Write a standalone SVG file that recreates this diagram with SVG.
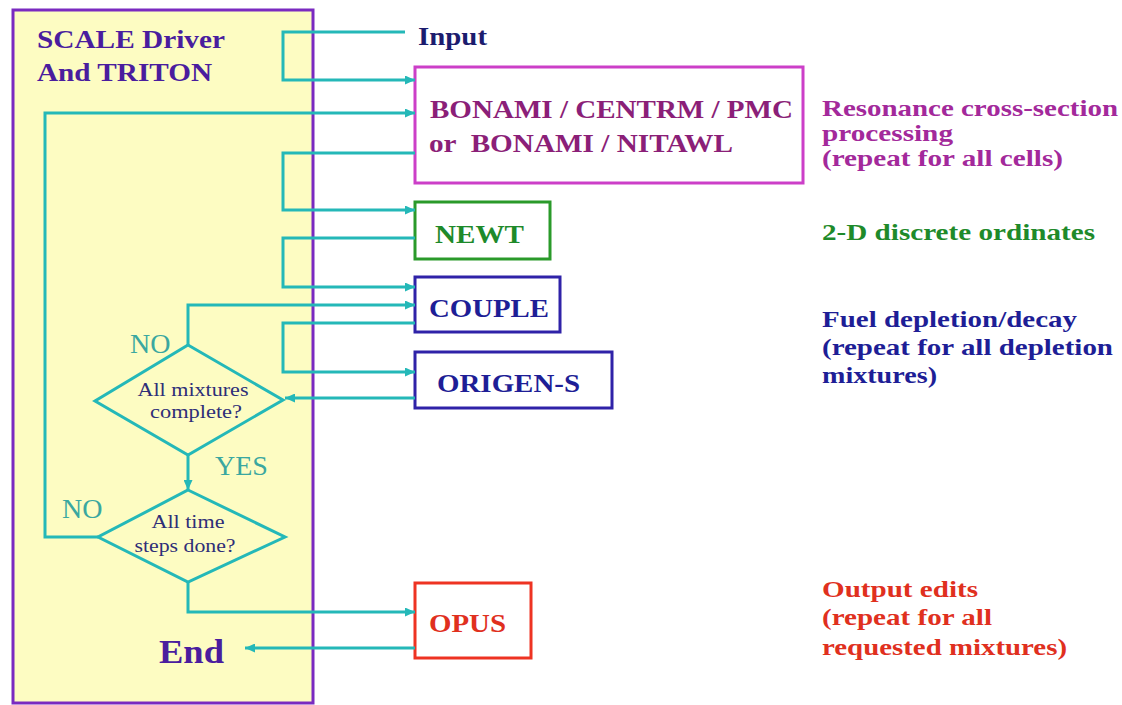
<svg xmlns="http://www.w3.org/2000/svg" width="1122" height="705" viewBox="0 0 1122 705" font-family="'Liberation Serif', 'DejaVu Serif', serif">
<style>
text{font-family:'Liberation Serif','DejaVu Serif',serif;}
.b{font-weight:bold;}
.conn{fill:none;stroke:#24b8b8;stroke-width:3;}
.box{fill:#fff;stroke-width:3;}
.dia{fill:none;stroke:#24b8b8;stroke-width:3;stroke-linejoin:miter;}
.dt{font-size:19px;fill:#2e2e78;text-anchor:middle;}
.lbl{font-size:28px;fill:#3aa7a0;}
.mag{fill:#a3299b;font-size:23px;font-weight:bold;}
.grn{fill:#1e8a2a;}
.blu{fill:#1e1e96;}
.red{fill:#e0301e;}
</style>
<defs>
<marker id="ah" markerUnits="userSpaceOnUse" markerWidth="10" markerHeight="9" refX="10" refY="4.5" orient="auto">
<path d="M0,0 L10,4.5 L0,9 z" fill="#24b8b8"/>
</marker>
</defs>
<rect width="1122" height="705" fill="#fff"/>
<g id="driver">
<rect x="13" y="10" width="300" height="693" fill="#fdfcc2" stroke="#7a2ac0" stroke-width="3"/>
<text x="37" y="48" class="b" font-size="26" fill="#4a1d9e" textLength="188" lengthAdjust="spacingAndGlyphs">SCALE Driver</text>
<text x="37" y="81" class="b" font-size="26" fill="#4a1d9e" textLength="175" lengthAdjust="spacingAndGlyphs">And TRITON</text>
</g>
<g id="input">
<text x="418" y="45" class="b" font-size="25" fill="#1c1c6e" textLength="69" lengthAdjust="spacingAndGlyphs">Input</text>
</g>
<g id="bonami">
<rect class="box" x="415" y="67" width="388" height="116" stroke="#cc3fc8"/>
<text x="430" y="118" class="b" font-size="26" fill="#8b1f78" textLength="363" lengthAdjust="spacingAndGlyphs">BONAMI / CENTRM / PMC</text>
<text x="429" y="152" class="b" font-size="26" fill="#8b1f78" textLength="304" lengthAdjust="spacingAndGlyphs" xml:space="preserve">or  BONAMI / NITAWL</text>
</g>
<g id="newt">
<rect class="box" x="415" y="202" width="135" height="57" stroke="#2a9a2a"/>
<text x="435" y="243" class="b grn" font-size="26" textLength="89" lengthAdjust="spacingAndGlyphs">NEWT</text>
</g>
<g id="couple">
<rect class="box" x="415" y="277" width="145" height="55" stroke="#2f22a8"/>
<text x="429" y="317" class="b blu" font-size="26" textLength="120" lengthAdjust="spacingAndGlyphs">COUPLE</text>
</g>
<g id="origen">
<rect class="box" x="415" y="352" width="197" height="56" stroke="#2f22a8"/>
<text x="437" y="392" class="b blu" font-size="26" textLength="143" lengthAdjust="spacingAndGlyphs">ORIGEN-S</text>
</g>
<g id="opus">
<rect class="box" x="415" y="583" width="116" height="75" stroke="#ee3322"/>
<text x="429" y="632" class="b red" font-size="26" textLength="77" lengthAdjust="spacingAndGlyphs">OPUS</text>
</g>
<g id="mixtures-decision">
<polygon class="dia" points="188,345 283,400 188,455 95,401"/>
<text x="193" y="396" class="dt" textLength="111" lengthAdjust="spacingAndGlyphs">All mixtures</text>
<text x="196" y="418" class="dt" textLength="92" lengthAdjust="spacingAndGlyphs">complete?</text>
</g>
<g id="timesteps-decision">
<polygon class="dia" points="188,490 285,537 188,582 98,537"/>
<text x="188" y="528" class="dt" textLength="73" lengthAdjust="spacingAndGlyphs">All time</text>
<text x="185" y="552" class="dt" textLength="101" lengthAdjust="spacingAndGlyphs">steps done?</text>
</g>
<g id="end">
<text x="159" y="663" class="b" font-size="34" fill="#4a1d9e" textLength="65" lengthAdjust="spacingAndGlyphs">End</text>
</g>
<g id="labels">
<text x="130" y="353" class="lbl">NO</text>
<text x="215" y="475" class="lbl">YES</text>
<text x="62" y="518" class="lbl" font-size="27">NO</text>
</g>
<g id="notes">
<text x="822" y="116" class="mag" textLength="296" lengthAdjust="spacingAndGlyphs">Resonance cross-section</text>
<text x="822" y="141" class="mag" textLength="131" lengthAdjust="spacingAndGlyphs">processing</text>
<text x="822" y="166" class="mag" textLength="241" lengthAdjust="spacingAndGlyphs">(repeat for all cells)</text>
<text x="822" y="240" class="mag grn" textLength="273" lengthAdjust="spacingAndGlyphs">2-D discrete ordinates</text>
<text x="822" y="327" class="mag blu" textLength="255" lengthAdjust="spacingAndGlyphs">Fuel depletion/decay</text>
<text x="822" y="355" class="mag blu" textLength="291" lengthAdjust="spacingAndGlyphs">(repeat for all depletion</text>
<text x="822" y="383" class="mag blu" textLength="115" lengthAdjust="spacingAndGlyphs">mixtures)</text>
<text x="822" y="597" class="mag red" textLength="156" lengthAdjust="spacingAndGlyphs">Output edits</text>
<text x="822" y="625" class="mag red" textLength="170" lengthAdjust="spacingAndGlyphs">(repeat for all</text>
<text x="822" y="655" class="mag red" textLength="245" lengthAdjust="spacingAndGlyphs">requested mixtures)</text>
</g>
<g id="connectors">
<path class="conn" d="M405,32 H283 V80 H415" marker-end="url(#ah)"/>
<path class="conn" d="M98,537 H45 V113 H415" marker-end="url(#ah)"/>
<path class="conn" d="M415,153 H283 V210 H415" marker-end="url(#ah)"/>
<path class="conn" d="M415,238 H283 V287 H415" marker-end="url(#ah)"/>
<path class="conn" d="M188,345 V305 H415" marker-end="url(#ah)"/>
<path class="conn" d="M415,323 H283 V372 H415" marker-end="url(#ah)"/>
<path class="conn" d="M415,398 H285" marker-end="url(#ah)"/>
<path class="conn" d="M188,455 V490" marker-end="url(#ah)"/>
<path class="conn" d="M188,582 V612 H415" marker-end="url(#ah)"/>
<path class="conn" d="M415,648 H245" marker-end="url(#ah)"/>
</g>
</svg>
